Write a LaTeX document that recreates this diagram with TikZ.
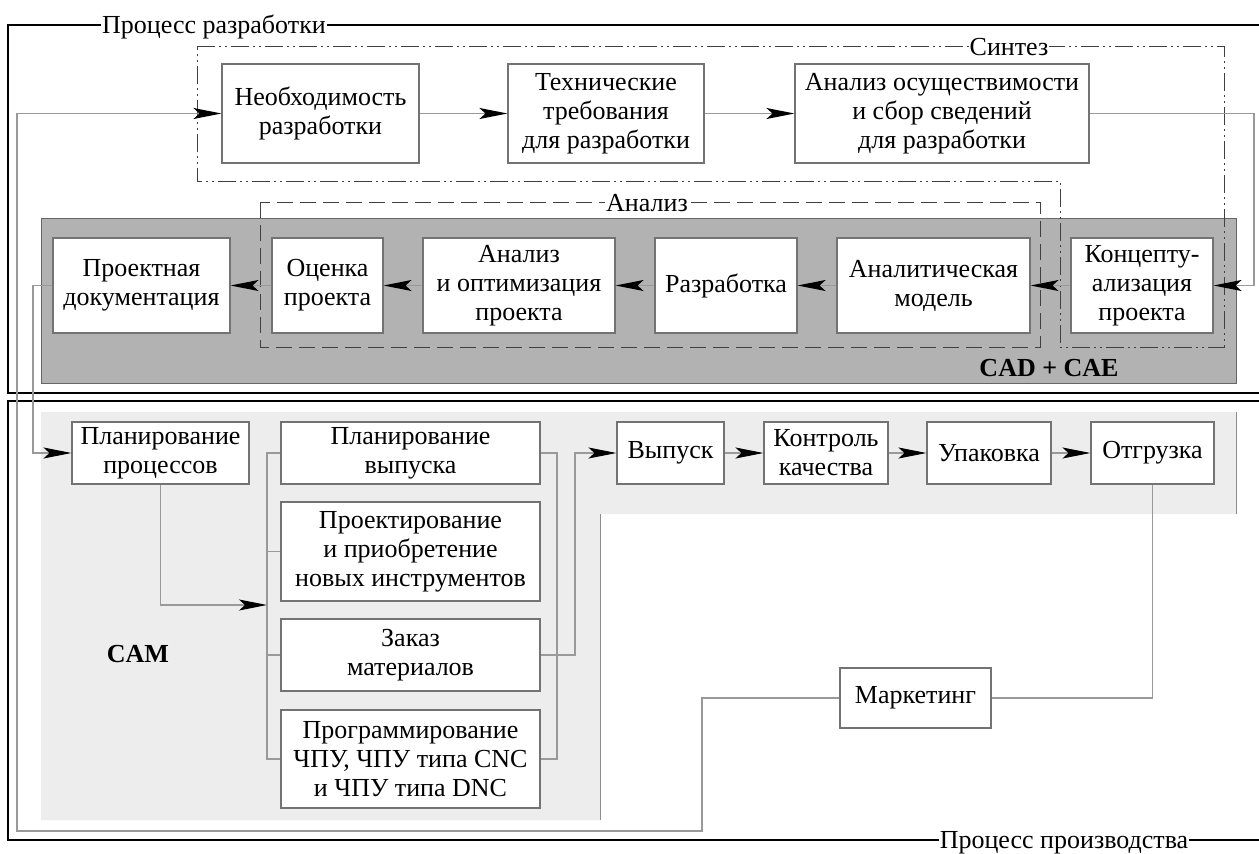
\documentclass[tikz,border=0pt]{standalone}
\usepackage{fontspec}
\setmainfont{Liberation Serif}
\usetikzlibrary{arrows.meta}
\begin{document}
\begin{tikzpicture}[x=1pt,y=-1pt,
  txt/.style={font=\fontsize{26}{29}\selectfont},
  box/.style={txt, draw=black!55, fill=white, line width=1.1pt, inner sep=0pt, align=center},
  conn/.style={draw=black!40, line width=1.1pt},
  arr/.style={conn, -{Stealth[length=28pt,width=11pt,inset=6pt,color=black]}},
  frame/.style={draw=black, line width=1.8pt},
  lbl/.style={txt, fill=white, inner sep=1pt},
  dashdotted2/.style={draw=black!75, line width=1pt, dash pattern=on 18pt off 4pt on 2pt off 4pt on 2pt off 4pt},
  dashed2/.style={draw=black!75, line width=1pt, dash pattern=on 16pt off 7pt},
  ]
\useasboundingbox (0,0) rectangle (1259,854);
\fill[white] (0,0) rectangle (1259,854);

% frames
\draw[frame] (8,25) rectangle (1272,393);
\node[lbl] (tdev) at (214,27) {Процесс разработки};
\draw[frame] (8,401) rectangle (1272,840);
\node[lbl] (tprod) at (1064,843) {Процесс производства};

% backgrounds
\draw[fill=gray!60, draw=black!60, line width=1pt] (41,218) rectangle (1236,383);
\fill[gray!14] (41,412) -- (1236,412) -- (1236,514) -- (600,514) -- (600,820) -- (41,820) -- cycle;
\draw[draw=black!45, line width=1pt] (1236,412) -- (1236,514);
\draw[draw=black!45, line width=1pt] (600,514) -- (600,820);

% groups
\draw[dashdotted2] (197,46) -- (1224,46) -- (1224,347) -- (1060,347) -- (1060,181) -- (197,181) -- cycle;
\node[lbl] (tsyn) at (1009,47) {Синтез};
\draw[dashed2] (260,202) rectangle (1040,347);
\node[lbl] (tan) at (647,203) {Анализ};

\node[txt, font=\fontsize{26}{29}\selectfont\bfseries] (cad) at (1049,368) {CAD + CAE};
\node[txt, font=\fontsize{26}{29}\selectfont\bfseries] (cam) at (138,654) {CAM};

% top row
\node[box, minimum width=197pt, minimum height=99pt] (nec) at (320.5,113.5) {Необходимость\\разработки};
\node[box, minimum width=196pt, minimum height=99pt] (tech) at (606,113.5) {Технические\\требования\\для разработки};
\node[box, minimum width=294pt, minimum height=99pt] (feas) at (942,113.5) {Анализ осуществимости\\и сбор сведений\\для разработки};

% middle row
\node[box, minimum width=177pt, minimum height=95pt] (doc) at (141.5,285.5) {Проектная\\документация};
\node[box, minimum width=111pt, minimum height=95pt] (eval) at (327.5,285.5) {Оценка\\проекта};
\node[box, minimum width=192pt, minimum height=95pt] (opt) at (519,285.5) {Анализ\\и оптимизация\\проекта};
\node[box, minimum width=142pt, minimum height=95pt] (dev) at (726,285.5) {Разработка};
\node[box, minimum width=193pt, minimum height=95pt] (model) at (933.5,285.5) {Аналитическая\\модель};
\node[box, minimum width=142pt, minimum height=95pt] (concept) at (1142,285.5) {Концепту-\\ализация\\проекта};

% production
\node[box, minimum width=177pt, minimum height=62pt] (procplan) at (160.5,453) {Планирование\\процессов};
\node[box, minimum width=259pt, minimum height=62pt] (relplan) at (410.5,453) {Планирование\\выпуска};
\node[box, minimum width=259pt, minimum height=99pt] (tools) at (410.5,551.5) {Проектирование\\и приобретение\\новых инструментов};
\node[box, minimum width=259pt, minimum height=72pt] (order) at (410.5,655) {Заказ\\материалов};
\node[box, minimum width=259pt, minimum height=98pt] (prog) at (410.5,759) {Программирование\\ЧПУ, ЧПУ типа CNC\\и ЧПУ типа DNC};
\node[box, minimum width=107pt, minimum height=62pt] (rel) at (670.5,453) {Выпуск};
\node[box, minimum width=124pt, minimum height=62pt] (qc) at (826,453) {Контроль\\качества};
\node[box, minimum width=124pt, minimum height=62pt] (pack) at (989,453) {Упаковка};
\node[box, minimum width=123pt, minimum height=62pt] (ship) at (1152.5,453) {Отгрузка};
\node[box, minimum width=151pt, minimum height=60pt] (mkt) at (915.5,698) {Маркетинг};

% helper coordinates
\coordinate (m1) at (702,831);
\coordinate (m2) at (17,831);
\coordinate (r1) at (1254,0);
\coordinate (l1) at (33,0);
\coordinate (b1) at (267,605);
\coordinate (lb) at (267,0);
\coordinate (rb) at (557,0);
\coordinate (rr) at (575,0);

% connectors top
\draw[arr] (nec.east) -- (tech.west);
\draw[arr] (tech.east) -- (feas.west);
\draw[arr] (feas.east) -- (feas.east -| r1) |- (concept.east);
% middle
\draw[arr] (concept.west) -- (model.east);
\draw[arr] (model.west) -- (dev.east);
\draw[arr] (dev.west) -- (opt.east);
\draw[arr] (opt.west) -- (eval.east);
\draw[arr] (eval.west) -- (doc.east);
\draw[arr] (doc.west) -- (doc.west -| l1) |- (procplan.west);
% production
\draw[arr] (procplan.south) |- (b1);
\draw[conn] (relplan.west) -- (relplan.west -| lb) -- (prog.west -| lb) -- (prog.west);
\draw[conn] (tools.west -| lb) -- (tools.west);
\draw[conn] (order.west -| lb) -- (order.west);
\draw[conn] (relplan.east) -- (relplan.east -| rb) -- (prog.east -| rb) -- (prog.east);
\draw[arr] (order.east) -- (order.east -| rr) |- (rel.west);
\draw[arr] (rel.east) -- (qc.west);
\draw[arr] (qc.east) -- (pack.west);
\draw[arr] (pack.east) -- (ship.west);
\draw[conn] (ship.south) |- (mkt.east);
\draw[arr] (mkt.west) -| (m1) -- (m2) |- (nec.west);
\end{tikzpicture}
\end{document}
